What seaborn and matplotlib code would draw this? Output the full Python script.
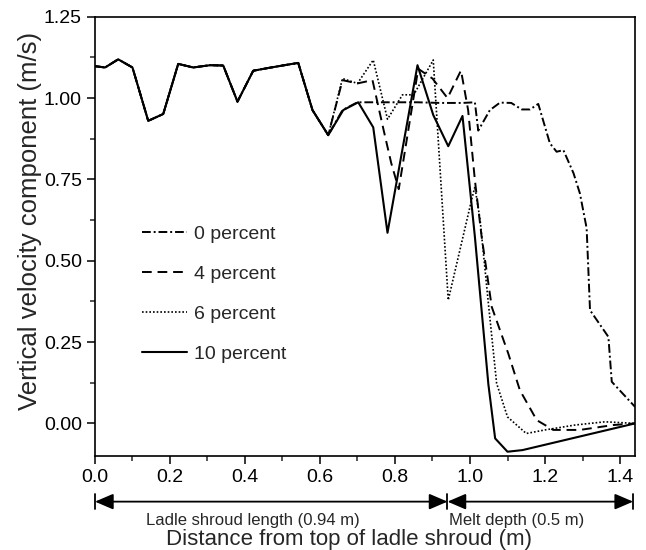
import matplotlib
matplotlib.use('Agg')
import matplotlib.pyplot as plt
import matplotlib.transforms as mtransforms
from matplotlib.ticker import MultipleLocator, FormatStrFormatter
import seaborn as sns

# shroud part: all four cases lie on top of each other here
x_shroud = [0.0, 0.027, 0.062, 0.10, 0.142, 0.182, 0.222, 0.262, 0.307, 0.342,
            0.38, 0.422, 0.46, 0.50, 0.542, 0.58, 0.622]
v_shroud = [1.098, 1.094, 1.119, 1.094, 0.930, 0.951, 1.105, 1.094, 1.101, 1.10,
            0.989, 1.084, 1.092, 1.10, 1.108, 0.963, 0.886]

# 0 percent
x_0pct = [0.66, 0.70, 0.74, 0.80, 0.86, 0.92, 0.98, 1.013, 1.022, 1.053, 1.08,
          1.11, 1.138, 1.16, 1.182, 1.213, 1.231, 1.249, 1.276, 1.293, 1.311,
          1.32, 1.369, 1.378, 1.44]
v_0pct = [0.963, 0.987, 0.987, 0.987, 0.987, 0.985, 0.985, 0.987, 0.90, 0.963, 0.986,
          0.985, 0.965, 0.965, 0.982, 0.861, 0.835, 0.84, 0.769, 0.707, 0.60,
          0.348, 0.266, 0.128, 0.051]

# 4 percent
x_4pct = [0.66, 0.70, 0.74, 0.77, 0.79, 0.81, 0.862, 0.90, 0.94, 0.976, 0.995,
          1.013, 1.031, 1.044, 1.058, 1.102, 1.133, 1.178, 1.222, 1.293, 1.382, 1.44]
v_4pct = [1.055, 1.045, 1.055, 0.90, 0.80, 0.72, 1.09, 1.06, 1.00, 1.085, 0.963,
          0.748, 0.574, 0.471, 0.358, 0.215, 0.102, 0.01, -0.02, -0.02, -0.005, 0.0]

# 6 percent
x_6pct = [0.66, 0.70, 0.742, 0.78, 0.82, 0.85, 0.902, 0.942, 1.004, 1.013, 1.027,
          1.049, 1.071, 1.10, 1.15, 1.20, 1.28, 1.36, 1.44]
v_6pct = [1.06, 1.045, 1.117, 0.935, 1.01, 1.01, 1.117, 0.379, 0.686, 0.727, 0.625,
          0.369, 0.123, 0.02, -0.031, -0.02, -0.005, 0.005, 0.0]

# 10 percent
x_10pct = [0.662, 0.702, 0.742, 0.78, 0.86, 0.902, 0.942, 0.98, 1.013, 1.049,
           1.067, 1.10, 1.14, 1.44]
v_10pct = [0.963, 0.987, 0.91, 0.586, 1.101, 0.948, 0.852, 0.945, 0.574, 0.12,
           -0.046, -0.087, -0.082, 0.0]

labels = ['0 percent', '4 percent', '6 percent', '10 percent']
tails = [(x_0pct, v_0pct), (x_4pct, v_4pct), (x_6pct, v_6pct), (x_10pct, v_10pct)]
styles = [(0, (4.5, 1.5, 1, 1.5)), (0, (5, 3)), (0, (1, 1.2)), '-']
widths = [1.4, 1.4, 1.2, 1.5]

sns.set_theme(style='ticks')
plt.rcParams['font.family'] = ['Liberation Sans', 'DejaVu Sans']

fig = plt.figure(figsize=(6.46, 5.5), dpi=100)
ax = fig.add_axes([0.147, 0.171, 0.836, 0.7986])

for lab, (xt, vt), ls, lw in zip(labels, tails, styles, widths):
    sns.lineplot(x=x_shroud + xt, y=v_shroud + vt, ax=ax, color='black',
                 linestyle=ls, linewidth=lw, label=lab)

ax.set_xlim(0, 1.44)
ax.set_ylim(-0.1, 1.25)
ax.xaxis.set_major_locator(MultipleLocator(0.2))
ax.xaxis.set_minor_locator(MultipleLocator(0.1))
ax.xaxis.set_major_formatter(FormatStrFormatter('%.1f'))
ax.yaxis.set_major_locator(MultipleLocator(0.25))
ax.yaxis.set_minor_locator(MultipleLocator(0.125))
ax.yaxis.set_major_formatter(FormatStrFormatter('%.2f'))
ax.tick_params(which='major', direction='out', length=6, width=1.1, labelsize=14, colors='black')
ax.tick_params(which='minor', direction='out', length=3.5, width=1.1)
for sp in ax.spines.values():
    sp.set_linewidth(1.2)
    sp.set_color('black')

ax.set_ylabel('Vertical velocity component (m/s)', fontsize=18.5)
ax.yaxis.set_label_coords(-0.098, 0.535)
ax.set_xlabel('Distance from top of ladle shroud (m)', fontsize=16)
ax.xaxis.set_label_coords(0.47, -0.166)

ax.legend(loc='upper left', bbox_to_anchor=(0.087, 0.525), frameon=False, fontsize=14,
          handlelength=2.3, handletextpad=0.4, labelspacing=1.15,
          borderpad=0, borderaxespad=0)

# dimension arrows below the axis
trans = mtransforms.blended_transform_factory(ax.transData, ax.transAxes)
arrow_y = -0.104
for x0, x1 in [(0.0, 0.94), (0.94, 1.435)]:
    ax.annotate('', xy=(x0, arrow_y), xytext=(x1, arrow_y), xycoords=trans,
                textcoords=trans, annotation_clip=False,
                arrowprops=dict(arrowstyle='<|-|>,head_length=0.7,head_width=0.3',
                                color='black', lw=1.3, shrinkA=0, shrinkB=0,
                                mutation_scale=16))
for xb in [0.0, 0.94, 1.435]:
    ax.plot([xb, xb], [arrow_y - 0.017, arrow_y + 0.017], color='black', lw=1.3,
            transform=trans, clip_on=False)

ax.text(0.42, -0.146, 'Ladle shroud length (0.94 m)', transform=trans,
        ha='center', va='center', fontsize=12)
ax.text(1.124, -0.146, 'Melt depth (0.5 m)', transform=trans,
        ha='center', va='center', fontsize=12)

fig.savefig('out.png', dpi=100)
